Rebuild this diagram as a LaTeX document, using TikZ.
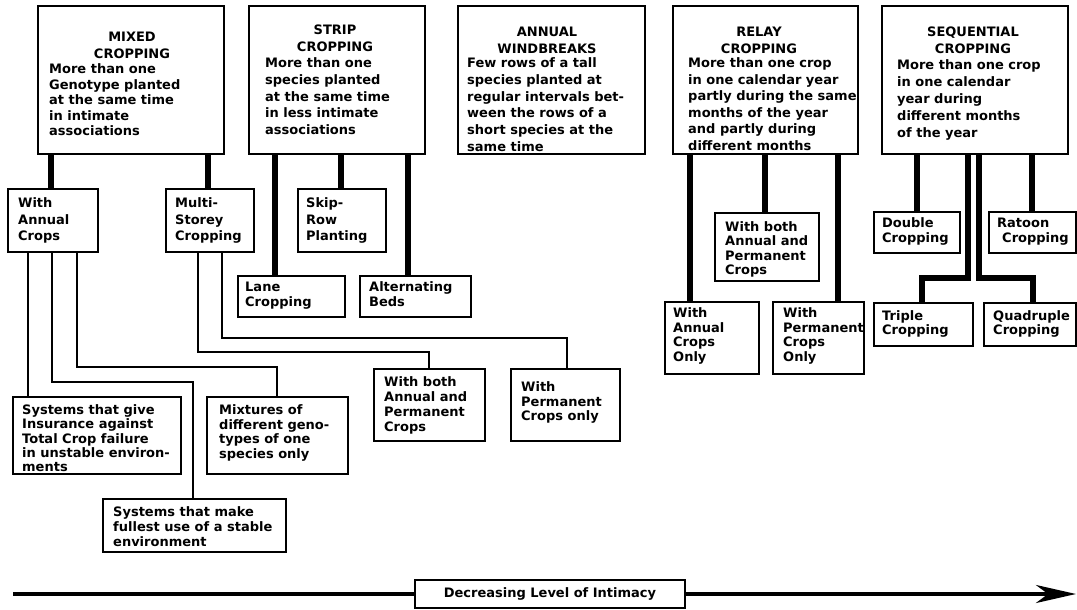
\documentclass[tikz,border=0pt]{standalone}
\usepackage{fontspec}
\setmainfont{DejaVu Sans}
\usetikzlibrary{arrows.meta}
\tikzset{
  frame/.style={draw, line width=1.9pt, inner sep=0pt, anchor=north west},
  head/.style={anchor=north, inner sep=0pt, align=center, font=\fontsize{13}{16.5}\selectfont\bfseries},
  body/.style={anchor=north west, inner sep=0pt, align=left, font=\fontsize{13}{#1}\selectfont\bfseries},
  body/.default=16.5,
  leg/.style={line width=6.5pt},
  link/.style={line width=2pt},
  axis/.style={line width=3.8pt},
}
\begin{document}
\begin{tikzpicture}[x=1pt,y=-1pt]
\useasboundingbox (0,0) rectangle (1077,610);
% ---------- top boxes ----------
\node[frame, minimum width=186, minimum height=148] (mixed) at (37,5) {};
\node[frame, minimum width=176, minimum height=148] (strip) at (248,5) {};
\node[frame, minimum width=187, minimum height=148] (annual) at (457,5) {};
\node[frame, minimum width=185, minimum height=148] (relay) at (672,5) {};
\node[frame, minimum width=186, minimum height=148] (seq) at (881,5) {};

\node[head] (mixedH) at (132,32) {MIXED\\CROPPING};
\node[body=15.5] (mixedT) at (49,63.5) {More than one\\Genotype planted\\at the same time\\in intimate\\associations};

\node[head] (stripH) at (335,25) {STRIP\\CROPPING};
\node[body=16.8] (stripT) at (265,57.5) {More than one\\species planted\\at the same time\\in less intimate\\associations};

\node[head] (annualH) at (547,27) {ANNUAL\\WINDBREAKS};
\node[body=16.8] (annualT) at (467,57.5) {Few rows of a tall\\species planted at\\regular intervals bet-\\ween the rows of a\\short species at the\\same time};

\node[head] (relayH) at (759,27) {RELAY\\CROPPING};
\node[body=16.6] (relayT) at (688,57.5) {More than one crop\\in one calendar year\\partly during the same\\months of the year\\and partly during\\different months};

\node[head] (seqH) at (973,27) {SEQUENTIAL\\CROPPING};
\node[body=17] (seqT) at (897,59.5) {More than one crop\\in one calendar\\year during\\different months\\of the year};

% ---------- second level boxes ----------
\node[frame, minimum width=90, minimum height=63] (wac) at (7,188) {};
\node[body=16.5] (wacT) at (18,197.5) {With\\Annual\\Crops};
\node[frame, minimum width=88, minimum height=63] (ms) at (165,188) {};
\node[body=16.5] (msT) at (175,197.5) {Multi-\\Storey\\Cropping};
\node[frame, minimum width=88, minimum height=63] (skip) at (297,188) {};
\node[body=16.5] (skipT) at (306,197.5) {Skip-\\Row\\Planting};
\node[frame, minimum width=107, minimum height=41] (lane) at (237,275) {};
\node[body=15] (laneT) at (245,281.5) {Lane\\Cropping};
\node[frame, minimum width=111, minimum height=41] (alt) at (359,275) {};
\node[body=15] (altT) at (369,281.5) {Alternating\\Beds};

\node[frame, minimum width=111, minimum height=72] (wboth1) at (373,368) {};
\node[body=15] (wboth1T) at (384,376.5) {With both\\Annual and\\Permanent\\Crops};
\node[frame, minimum width=109, minimum height=72] (wperm1) at (510,368) {};
\node[body=14.5] (wperm1T) at (521,381.5) {With\\Permanent\\Crops only};

\node[frame, minimum width=168, minimum height=77] (sys1) at (12,396) {};
\node[body=14.3] (sys1T) at (22,404.5) {Systems that give\\Insurance against\\Total Crop failure\\in unstable environ-\\ments};
\node[frame, minimum width=141, minimum height=77] (mix) at (206,396) {};
\node[body=14.7] (mixT) at (219,404.5) {Mixtures of\\different geno-\\types of one\\species only};
\node[frame, minimum width=183, minimum height=53] (sys2) at (102,498) {};
\node[body=15] (sys2T) at (113,506.5) {Systems that make\\fullest use of a stable\\environment};

\node[frame, minimum width=104, minimum height=68] (wboth2) at (714,212) {};
\node[body=14.3] (wboth2T) at (725,221.5) {With both\\Annual and\\Permanent\\Crops};
\node[frame, minimum width=94, minimum height=72] (wao) at (664,301) {};
\node[body=14.7] (waoT) at (673,307.5) {With\\Annual\\Crops\\Only};
\node[frame, minimum width=91, minimum height=72] (wpo) at (772,301) {};
\node[body=14.7] (wpoT) at (783,307.5) {With\\Permanent\\Crops\\Only};

\node[frame, minimum width=86, minimum height=41] (dbl) at (873,211) {};
\node[body=15] (dblT) at (882,217.5) {Double\\Cropping};
\node[frame, minimum width=87, minimum height=41] (rat) at (988,211) {};
\node[body=15] (ratT) at (997,217.5) {Ratoon\\\hspace*{5pt}Cropping};
\node[frame, minimum width=99, minimum height=43] (tri) at (873,302) {};
\node[body=14] (triT) at (882,310.5) {Triple\\Cropping};
\node[frame, minimum width=92, minimum height=43] (quad) at (983,302) {};
\node[body=14] (quadT) at (993,310.5) {Quadruple\\Cropping};

% ---------- thick legs ----------
\draw[leg] (51,0 |- mixed.south) -- (51,0 |- wac.north);
\draw[leg] (208,0 |- mixed.south) -- (208,0 |- ms.north);
\draw[leg] (275,0 |- strip.south) -- (275,0 |- lane.north);
\draw[leg] (341,0 |- strip.south) -- (341,0 |- skip.north);
\draw[leg] (408,0 |- strip.south) -- (408,0 |- alt.north);
\draw[leg] (690,0 |- relay.south) -- (690,0 |- wao.north);
\draw[leg] (765,0 |- relay.south) -- (765,0 |- wboth2.north);
\draw[leg] (838,0 |- relay.south) -- (838,0 |- wpo.north);
\draw[leg] (917,0 |- seq.south) -- (917,0 |- dbl.north);
\draw[leg] (968,0 |- seq.south) -- (968,278) -- (922,278) -- (922,0 |- tri.north);
\draw[leg] (979,0 |- seq.south) -- (979,278) -- (1033,278) -- (1033,0 |- quad.north);
\draw[leg] (1032,0 |- seq.south) -- (1032,0 |- rat.north);

% ---------- thin links ----------
\draw[link] (198,0 |- ms.south) -- (198,352) -- (429,352) -- (429,0 |- wboth1.north);
\draw[link] (222,0 |- ms.south) -- (222,338) -- (567,338) -- (567,0 |- wperm1.north);
\draw[link] (28,0 |- wac.south) -- (28,0 |- sys1.north);
\draw[link] (52,0 |- wac.south) -- (52,382) -- (193,382) -- (193,0 |- sys2.north);
\draw[link] (77,0 |- wac.south) -- (77,367) -- (277,367) -- (277,0 |- mix.north);

% ---------- intimacy axis ----------
\node[frame, anchor=center, minimum width=270, minimum height=28, font=\fontsize{13}{16}\selectfont\bfseries] (lbl) at (550,594) {Decreasing Level of Intimacy};
\coordinate (aL) at (13,594);
\coordinate (aR) at (1076,594);
\draw[axis] (aL) -- (lbl.west);
\draw[axis, -{Stealth[length=40pt,width=18pt,inset=12pt]}] (lbl.east) -- (aR);
\end{tikzpicture}
\end{document}
